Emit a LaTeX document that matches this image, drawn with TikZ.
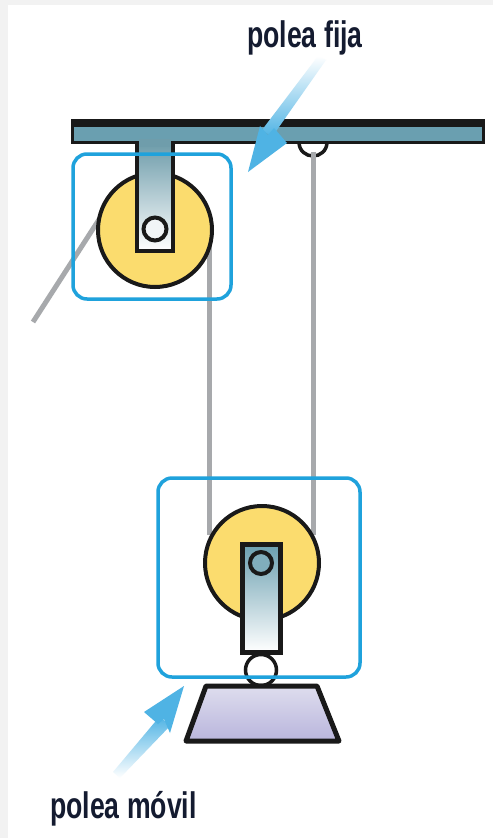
\documentclass[tikz,border=0pt]{standalone}
\usepackage{fontspec}
\setmainfont[FakeStretch=0.72]{Liberation Sans}
\definecolor{pageedge}{HTML}{F2F2F2}
\definecolor{barblue}{HTML}{6A9FB0}
\definecolor{stemtop}{HTML}{6F9DAB}
\definecolor{wheel}{HTML}{FBDC6E}
\definecolor{rope}{HTML}{A7A9AC}
\definecolor{framecyan}{HTML}{1FA2DC}
\definecolor{arrowcyan}{HTML}{4FB3E4}
\definecolor{weighttop}{HTML}{DEDDEE}
\definecolor{weightbot}{HTML}{B9B5DC}
\definecolor{inktext}{HTML}{141B30}
\tikzset{
  ink/.style={draw=black!90,line width=4pt,line join=round},
  ropeline/.style={draw=rope,line width=5pt},
  pulleywheel/.style={circle,ink,fill=wheel,minimum size=114pt,inner sep=0pt},
  axle/.style={circle,draw=black!90,line width=4pt,inner sep=0pt},
  framebox/.style={draw=framecyan,line width=3.5pt,rounded corners=14pt,fill=none},
  lbl/.style={text=inktext,font=\fontsize{37}{37}\selectfont\bfseries,inner sep=0pt,anchor=base west},
  pointerhead/.style={fill=arrowcyan,draw=none}
}
\begin{document}
\begin{tikzpicture}[x=1pt,y=-1pt]
\useasboundingbox (0,0) rectangle (493,838);
\fill[pageedge] (0,0) rectangle (493,838);
\fill[white] (8,5) rectangle (493,838);

% anchors
\coordinate (fixc) at (155,230);
\coordinate (movc) at (262,563);
\coordinate (ropeend) at (33,322);
\coordinate (hook) at (313,152);
\coordinate (ropeA) at (209,245);
\coordinate (ropeAb) at (209,535);
\coordinate (ropeB) at (313,535);
\coordinate (ropeC) at (100,218);

% ropes
\draw[ropeline] (ropeend) -- (ropeC);
\draw[ropeline] (ropeA) -- (ropeAb);
\draw[ropeline] (hook) -- (ropeB);

% ceiling hook
\draw[draw=black!90,line width=3.5pt,fill=white] (299,142) .. controls (299,151) and (306,156) .. (313,156) .. controls (320,156) and (327,151) .. (327,142);
\draw[ropeline] (hook) -- (313,160);

% fixed pulley
\node[pulleywheel] (fixwheel) at (fixc) {};
\shade[top color=stemtop,bottom color=white,draw=black!90,line width=4pt,line join=miter]
  (137,144) -- (173,144) -- (173,251) -- (137,251) -- cycle;
\node[axle,fill=white!90!stemtop,minimum size=23pt] (fixaxle) at (155,229) {};

% ceiling bar
\fill[black!90] (71,119) rectangle (485,144);
\fill[barblue] (74,127) rectangle (482,141);
\fill[stemtop] (139,139) rectangle (171,147);

% moving pulley
\node[pulleywheel] (movwheel) at (movc) {};
\node[circle,draw=black!90,line width=3.5pt,fill=white,minimum size=31pt,inner sep=0pt] (ring) at (261,670) {};
\shade[top color=barblue,bottom color=white,draw=black!90,line width=5pt,line join=miter]
  (242,544) -- (280,544) -- (280,652) -- (242,652) -- cycle;
\node[axle,fill=barblue!85!white,minimum size=22pt] (movaxle) at (261,563) {};

% weight
\shade[top color=weighttop,bottom color=weightbot,draw=black!90,line width=5pt,line join=round]
  (206,686) -- (317,686) -- (339,741) -- (186,741) -- cycle;

% frames
\draw[framebox] (73,154) rectangle (231,299);
\draw[framebox] (158,478) rectangle (360,677);

% pointers
\shade[top color=white,middle color=arrowcyan,bottom color=arrowcyan]
  (318,56) -- (326,60) -- (272,137) -- (262,130) -- cycle;
\fill[pointerhead] (248,172) -- (260,126) -- (268,135) -- (274,128) -- (287,143) -- cycle;
\shade[top color=arrowcyan,middle color=arrowcyan,bottom color=white]
  (160,716) -- (170,726) -- (120,778) -- (113,772) -- cycle;
\fill[pointerhead] (184,686) -- (170,733) -- (164,719) -- (158,724) -- (144,712) -- cycle;

% labels
\node[lbl] (fixlabel) at (247,47) {polea fija};
\node[lbl] (movlabel) at (50,818) {polea móvil};
\end{tikzpicture}
\end{document}
